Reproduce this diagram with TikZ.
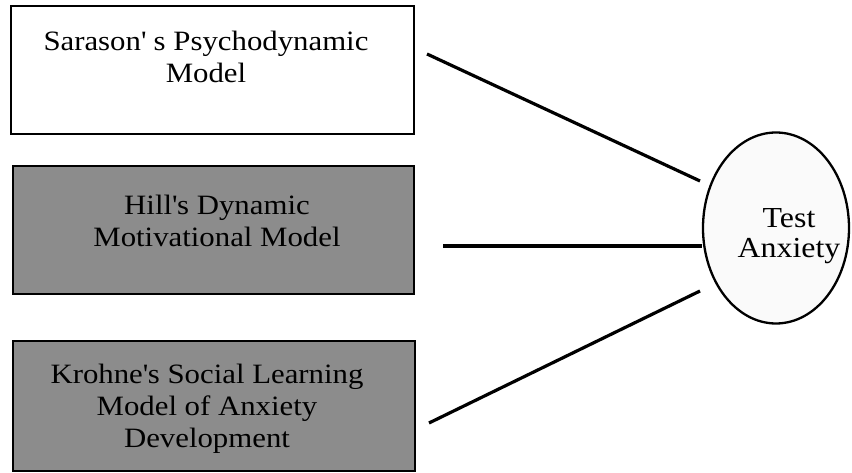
\documentclass[tikz,border=0pt]{standalone}
\usepackage{fontspec}
\setmainfont[FakeStretch=1.1]{Liberation Serif}
\usetikzlibrary{shapes.geometric}
\begin{document}
\begin{tikzpicture}[x=1pt,y=1pt,
  box/.style={draw=black, line width=2pt, rectangle, anchor=south west, inner sep=0pt},
  shaded/.style={fill=black!45},
  txt/.style={font=\fontsize{28}{32}\selectfont, align=center, inner sep=0pt, anchor=base},
  link/.style={line width=3.2pt}]
\useasboundingbox (0,0) rectangle (852,473);
% boxes
\node[box, fill=white, minimum width=403pt, minimum height=128pt] (b1) at (10,338) {};
\node[box, shaded, minimum width=401pt, minimum height=128pt] (b2) at (12,178) {};
\node[box, shaded, minimum width=402pt, minimum height=130pt] (b3) at (12,1) {};
% texts
\node[txt] (t1) at (206,390) {Sarason\textquotesingle{} s Psychodynamic\\Model};
\node[txt] (t2) at (217,226) {Hill\textquotesingle{}s Dynamic\\Motivational Model};
\node[txt] (t3) at (207,25) {Krohne\textquotesingle{}s Social Learning\\Model of Anxiety\\Development};
% ellipse
\node[draw=black, line width=2.3pt, fill=black!2, ellipse, minimum width=146pt, minimum height=191pt, inner sep=0pt] (ta) at (776,245) {};
\node[txt, font=\fontsize{29}{30}\selectfont] (tt) at (789,215) {Test\\Anxiety};
% connectors
\coordinate (s1) at (427,419);
\coordinate (e1) at (700,292);
\coordinate (s2) at (443,227);
\coordinate (s3) at (429,50);
\coordinate (e3) at (700,182);
\draw[link] (s1) -- (e1);
\draw[link] (s2) -- (s2 -| ta.west);
\draw[link] (s3) -- (e3);
\end{tikzpicture}
\end{document}
